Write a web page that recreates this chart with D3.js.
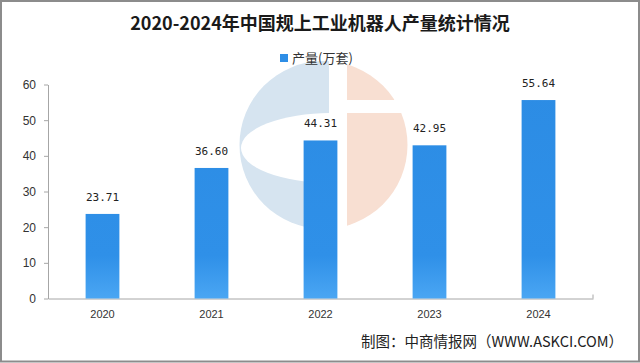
<!DOCTYPE html>
<html>
<head>
<meta charset="utf-8">
<script src="https://cdn.jsdelivr.net/npm/d3@7/dist/d3.min.js"></script>
<style>
  body { margin: 0; background: #fff; }
  svg { display: block; }
</style>
</head>
<body>
<svg id="chart" width="640" height="363"></svg>
<script>
// Data
const years = ['2020', '2021', '2022', '2023', '2024'];
const output = [23.71, 36.60, 44.31, 42.95, 55.64];
const yTicks = [0, 10, 20, 30, 40, 50, 60];

const titleText = '2020-2024年中国规上工业机器人产量统计情况';
const legendText = '产量(万套)';
const sourceText = '制图：中商情报网（WWW.ASKCI.COM）';

// Display settings
const barColor = '#2e8ee6';
const axisColor = '#a6a6a6';
const cjkFont = '"Noto Sans CJK SC", "Noto Sans", sans-serif';

const svg = d3.select('#chart');
const width = +svg.attr('width');
const height = +svg.attr('height');

const margin = { left: 48, right: 47, top: 84.5, bottom: 64.5 };

// Scales
const x = d3.scaleBand()
  .domain(years)
  .range([margin.left, width - margin.right])
  .paddingInner(0.69)
  .paddingOuter(0.345);

const y = d3.scaleLinear()
  .domain([0, 60])
  .range([height - margin.bottom, margin.top]);

// Gradient for the slightly lighter bar bottoms
const defs = svg.append('defs');
const grad = defs.append('linearGradient')
  .attr('id', 'barGrad')
  .attr('gradientUnits', 'userSpaceOnUse')
  .attr('x1', 0).attr('x2', 0)
  .attr('y1', y(60)).attr('y2', y(0));
grad.append('stop').attr('offset', 0).attr('stop-color', '#2c8ce4');
grad.append('stop').attr('offset', 0.8).attr('stop-color', '#2f90e8');
grad.append('stop').attr('offset', 1).attr('stop-color', '#4aa6f3');

// Watermark logo in the background
const cx = 323.5, cy = 145, r = 84;
defs.append('clipPath').attr('id', 'leftClip')
  .append('rect').attr('x', 0).attr('y', 0).attr('width', 329).attr('height', height);
defs.append('clipPath').attr('id', 'rightClip')
  .append('rect').attr('x', 347).attr('y', 0).attr('width', width).attr('height', height);

const mark = svg.append('g').attr('class', 'watermark');
const leftMark = mark.append('g').attr('clip-path', 'url(#leftClip)');
leftMark.append('circle')
  .attr('cx', cx).attr('cy', cy).attr('r', r)
  .attr('fill', '#d6e4f0');
leftMark.append('ellipse')
  .attr('cx', 331).attr('cy', 148).attr('rx', 90).attr('ry', 35)
  .attr('fill', '#fff');

const rightMark = mark.append('g').attr('clip-path', 'url(#rightClip)');
rightMark.append('circle')
  .attr('cx', cx).attr('cy', cy).attr('r', r)
  .attr('fill', '#f8dfd2');
rightMark.append('rect')
  .attr('x', 340).attr('y', 100).attr('width', 80).attr('height', 13)
  .attr('fill', '#fff');

// Title
svg.append('text')
  .attr('x', 320)
  .attr('y', 30)
  .attr('text-anchor', 'middle')
  .style('font-family', cjkFont)
  .style('font-weight', 700)
  .style('font-size', '18px')
  .attr('fill', '#1a1a1a')
  .text(titleText);

// Legend
const legend = svg.append('g').attr('transform', 'translate(280, 58)');
legend.append('rect')
  .attr('x', 0).attr('y', -4)
  .attr('width', 8).attr('height', 8)
  .attr('fill', barColor);
legend.append('text')
  .attr('x', 12)
  .attr('y', 0)
  .attr('dy', '0.35em')
  .style('font-family', cjkFont)
  .style('font-size', '13px')
  .attr('fill', '#333')
  .text(legendText);

// Y axis
const yAxis = svg.append('g')
  .attr('transform', `translate(${margin.left},0)`)
  .call(d3.axisLeft(y).tickValues(yTicks).tickSize(4).tickSizeOuter(0).tickPadding(8));
yAxis.select('.domain').attr('stroke', axisColor);
yAxis.selectAll('.tick line').attr('stroke', axisColor);
yAxis.selectAll('.tick text')
  .attr('fill', '#333')
  .style('font-family', 'Arial, "Liberation Sans", sans-serif')
  .style('font-size', '12px');

// X axis
const xAxis = svg.append('g')
  .attr('transform', `translate(0,${y(0)})`)
  .call(d3.axisBottom(x).tickSize(0).tickSizeOuter(0).tickPadding(12));
xAxis.select('.domain').attr('stroke', axisColor);
xAxis.selectAll('.tick text')
  .attr('fill', '#333')
  .style('font-family', 'Arial, "Liberation Sans", sans-serif')
  .style('font-size', '11px');
// small end hook on the right
xAxis.append('line')
  .attr('x1', width - margin.right).attr('x2', width - margin.right)
  .attr('y1', 0).attr('y2', -4)
  .attr('stroke', axisColor);

// Bars
svg.append('g')
  .selectAll('rect')
  .data(output)
  .join('rect')
  .attr('x', (d, i) => x(years[i]))
  .attr('y', d => y(d))
  .attr('width', x.bandwidth())
  .attr('height', d => y(0) - y(d))
  .attr('fill', 'url(#barGrad)');

// Value labels
svg.append('g')
  .selectAll('text')
  .data(output)
  .join('text')
  .attr('x', (d, i) => x(years[i]) + x.bandwidth() / 2)
  .attr('y', d => y(d) - 13)
  .attr('text-anchor', 'middle')
  .style('font-family', '"DejaVu Sans Mono", "Liberation Mono", monospace')
  .style('font-size', '11px')
  .attr('fill', '#222')
  .text(d => d.toFixed(2));

// Source note
svg.append('text')
  .attr('x', 623)
  .attr('y', 347)
  .attr('text-anchor', 'end')
  .attr('textLength', 262)
  .attr('lengthAdjust', 'spacingAndGlyphs')
  .style('font-family', cjkFont)
  .style('font-size', '15px')
  .attr('fill', '#222')
  .text(sourceText);

// Frame
svg.append('rect')
  .attr('x', 1).attr('y', 1)
  .attr('width', width - 2).attr('height', height - 2.5)
  .attr('fill', 'none')
  .attr('stroke', '#8c8c8c')
  .attr('stroke-width', 2);
</script>
</body>
</html>
